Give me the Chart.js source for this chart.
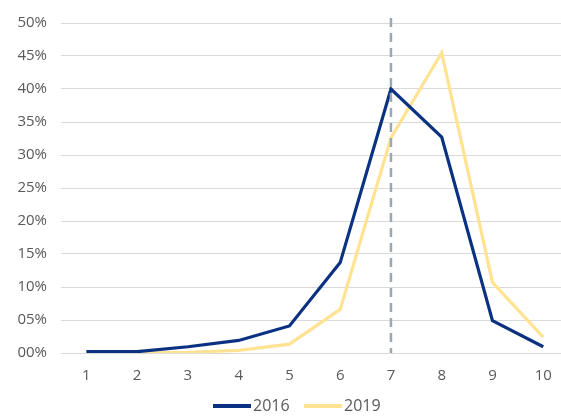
<!DOCTYPE html>
<html>
<head>
<meta charset="utf-8">
<script src="https://cdn.jsdelivr.net/npm/chart.js@4"></script>
<style>
  html, body { margin: 0; padding: 0; background: #fff; }
  #wrap { width: 561px; height: 417px; }
</style>
</head>
<body>
<div id="wrap"><canvas id="chart"></canvas></div>
<script>
var categories = [1, 2, 3, 4, 5, 6, 7, 8, 9, 10];
var values2016 = [0.2, 0.2, 0.95, 1.9, 4.1, 13.7, 40.0, 32.7, 4.9, 0.95];
var values2019 = [0.0, 0.0, 0.1, 0.4, 1.35, 6.6, 32.6, 45.5, 10.7, 2.4];
var yTicks = [0, 5, 10, 15, 20, 25, 30, 35, 40, 45, 50];
var markerAt = 7;

function points(vals) {
    return categories.map(function(c, i) { return { x: c, y: vals[i] }; });
}

// dashed vertical marker at category 7
var markerLine = {
    id: 'markerLine',
    afterDatasetsDraw: function(chart) {
        var ctx = chart.ctx;
        var x = chart.scales.x.getPixelForValue(markerAt);
        ctx.save();
        ctx.strokeStyle = '#9aa8b3';
        ctx.lineWidth = 2.5;
        ctx.setLineDash([9, 6]);
        ctx.beginPath();
        ctx.moveTo(x, chart.chartArea.top - 5);
        ctx.lineTo(x, chart.chartArea.bottom);
        ctx.stroke();
        ctx.restore();
    }
};

// legend under the plot: line sample + label
var bottomLegend = {
    id: 'bottomLegend',
    afterDraw: function(chart) {
        var ctx = chart.ctx;
        var starts = [213, 304];
        var y = 406;
        ctx.save();
        ctx.font = '16px "Open Sans"';
        ctx.textBaseline = 'middle';
        chart.data.datasets.forEach(function(ds, i) {
            var x = starts[i];
            ctx.fillStyle = ds.borderColor;
            ctx.fillRect(x, y - 2, 38, 4);
            ctx.fillStyle = '#595959';
            ctx.fillText(ds.label, x + 40, y);
        });
        ctx.restore();
    }
};

var ctx = document.getElementById('chart').getContext('2d');
var chart = new Chart(ctx, {
    type: 'line',
    data: {
        datasets: [{
            label: '2016',
            data: points(values2016),
            borderColor: '#0b3282',
            backgroundColor: '#0b3282',
            borderWidth: 3.2,
            pointRadius: 0,
            tension: 0
        }, {
            label: '2019',
            data: points(values2019),
            borderColor: '#ffe392',
            backgroundColor: '#ffe392',
            borderWidth: 3.2,
            pointRadius: 0,
            tension: 0
        }]
    },
    options: {
        responsive: true,
        maintainAspectRatio: false,
        animation: false,
        layout: { padding: { top: 16, right: 0, left: 0, bottom: 19 } },
        plugins: {
            tooltip: { enabled: false },
            legend: { display: false }
        },
        scales: {
            x: {
                type: 'linear',
                min: 0.5,
                max: 10.35,
                grid: { display: false },
                border: { display: false },
                afterFit: function(axis) { axis.height = 45; },
                afterBuildTicks: function(axis) {
                    axis.ticks = categories.map(function(c) { return { value: c }; });
                },
                ticks: {
                    color: '#595959',
                    padding: 6,
                    maxRotation: 0,
                    autoSkip: false,
                    font: { family: 'Open Sans', size: 15 },
                    callback: function(v) { return String(v); }
                }
            },
            y: {
                min: 0,
                max: 50,
                afterFit: function(axis) { axis.width = 61; },
                afterBuildTicks: function(axis) {
                    axis.ticks = yTicks.map(function(v) { return { value: v }; });
                },
                grid: { color: '#d9d9d9', lineWidth: 1, drawTicks: false },
                border: { display: false },
                ticks: {
                    color: '#595959',
                    padding: 14,
                    font: { family: 'Open Sans', size: 15 },
                    callback: function(v) { return (v < 10 ? '0' : '') + v + '%'; }
                }
            }
        }
    },
    plugins: [markerLine, bottomLegend]
});
</script>
</body>
</html>
